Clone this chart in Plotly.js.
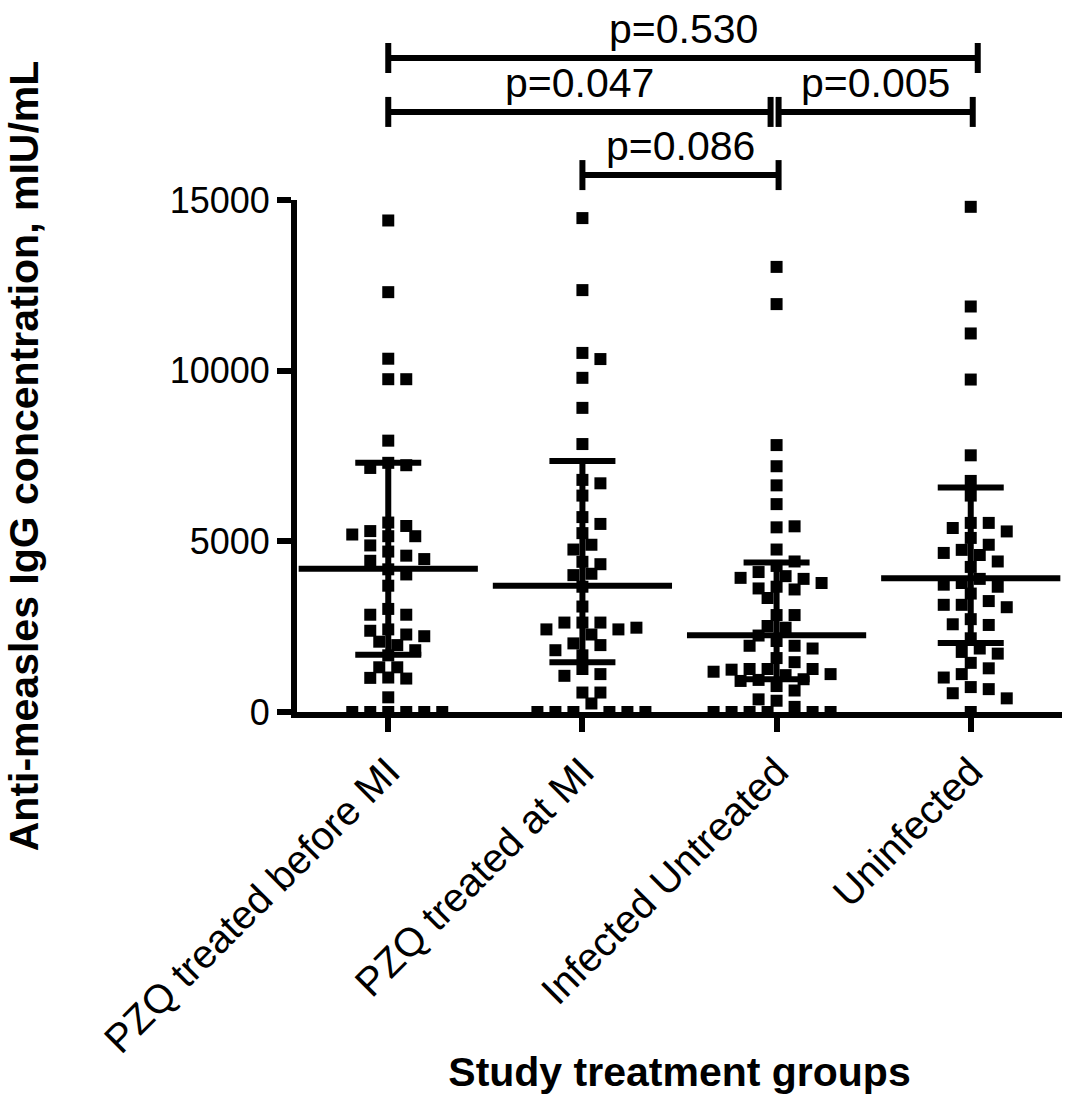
<!DOCTYPE html>
<html><head><meta charset="utf-8">
<script src="https://cdn.plot.ly/plotly-3.0.1.min.js"></script>
<style>html,body{margin:0;padding:0;background:#fff}</style>
</head><body><div id="chart" style="width:1073px;height:1095px"></div>
<script>
// ---------- data ----------
const categories = ["PZQ treated before MI", "PZQ treated at MI", "Infected Untreated", "Uninfected"];
const groupBeforeMI = [14400, 12300, 10350, 9750, 9750, 7950, 7300, 7230, 7150, 5550, 5450, 5300, 5150, 5150, 5200,
  4880, 4700, 4580, 4430, 4480, 4180, 4030, 3700, 3020, 2850, 2850, 2420, 2270, 2380, 2220, 2060, 1960, 1810, 1660,
  1310, 1310, 1010, 980, 1000, 430, 0, 0, 0, 0, 0, 0];
const groupAtMI = [14470, 12360, 10520, 10340, 9790, 8910, 7850, 6800, 6700, 6340, 5710, 5510, 5240, 4900, 4760, 4400,
  4330, 4050, 4010, 3670, 3090, 2620, 2620, 2620, 2420, 2420, 2470, 2270, 2010, 1960, 1810, 1660, 1260, 1110, 1060,
  570, 570, 250, 0, 0, 0, 0, 0, 0];
const groupInfectedUntreated = [13040, 11950, 7820, 7200, 6640, 6090, 5410, 5440, 4760, 4280, 4410, 4100, 3980, 3900,
  3930, 3670, 3590, 3620, 3780, 3340, 2840, 2840, 2470, 2520, 2240, 2080, 1940, 1940, 1860, 1580, 1460, 1260, 1260,
  1260, 1240, 1080, 1110, 1180, 940, 960, 910, 760, 630, 330, 370, 150, 0, 0, 0, 0, 0, 0];
const groupUninfected = [14800, 11880, 11090, 9740, 7520, 6770, 6340, 5540, 5540, 5390, 5290, 5100, 4900, 4750, 4660,
  4600, 4410, 4250, 3900, 3780, 3670, 3730, 3470, 3250, 3140, 3140, 3070, 2720, 2550, 2570, 2160, 1860, 1760, 1710,
  1440, 1280, 1110, 1010, 730, 670, 550, 400, 0];
const centerValues = [4200, 3700, 2250, 3920];
const lowerValues = [1680, 1460, 960, 2020];
const upperValues = [7300, 7350, 4380, 6580];
const yTickValues = [0, 5000, 10000, 15000];
const yTickLabels = ["0", "5000", "10000", "15000"];
const pLabels = ["p=0.530", "p=0.047", "p=0.005", "p=0.086"];
const pFrom = [0, 0, 2, 1];
const pTo = [3, 2, 3, 2];

// ---------- layout config ----------
const W = 1073, H = 1095;
const M = {l: 297, r: 11, t: 200, b: 383};
const xRange = [-0.47, 3.47];
const yRange = [0, 15000];
const plotW = W - M.l - M.r, plotH = H - M.t - M.b;
const pxPerX = plotW / (xRange[1] - xRange[0]);
const pxPerY = plotH / (yRange[1] - yRange[0]);
const FONT = "Liberation Sans, Arial, sans-serif";
const MARKER = 12, STEP = 9, MIN_DIST = 13, LW = 6;

// beeswarm placement computed from values through the axis scale
function swarm(values, idx) {
  const placed = [];
  const xs = [];
  values.forEach(v => {
    const py = v * pxPerY;
    let k = 0, dx = 0;
    for (let n = 0; n < 200; n++) {
      k = n === 0 ? 0 : (n % 2 ? (n + 1) / 2 : -n / 2);
      dx = k * STEP;
      const hit = placed.some(p => (p.dx - dx) ** 2 + (p.py - py) ** 2 < MIN_DIST * MIN_DIST);
      if (!hit) break;
    }
    placed.push({dx, py});
    xs.push(idx + dx / pxPerX);
  });
  return xs;
}

const groups = [groupBeforeMI, groupAtMI, groupInfectedUntreated, groupUninfected];
const traces = groups.map((vals, i) => ({
  type: 'scatter', mode: 'markers', name: categories[i],
  x: swarm(vals, i), y: vals, cliponaxis: false, hoverinfo: 'y',
  marker: {symbol: 'square', size: MARKER, color: '#000', line: {width: 0}}
}));
const idxs = categories.map((c, i) => i);
traces.push({
  type: 'scatter', mode: 'markers', x: idxs, y: centerValues, cliponaxis: false,
  marker: {symbol: 'line-ew', size: 128, color: '#000', line: {width: LW, color: '#000'}},
  error_y: {type: 'data', symmetric: false,
    array: upperValues.map((u, i) => u - centerValues[i]),
    arrayminus: lowerValues.map((l, i) => centerValues[i] - l),
    thickness: LW, width: 33, color: '#000'}
});

// comparison brackets (levels in data units above the axis top)
const levels = [19160, 17580, 17580, 15730];
const endNudgePx = [[0, 7], [0, -6], [2, 2], [0, 2]];
const tickHalf = 15 / pxPerY;
const toPaperX = (v) => (v - xRange[0]) / (xRange[1] - xRange[0]);
const toPaperY = (v) => (v - yRange[0]) / (yRange[1] - yRange[0]);
const shapes = [], annotations = [];
pLabels.forEach((lab, i) => {
  const x0 = toPaperX(pFrom[i] + endNudgePx[i][0] / pxPerX);
  const x1 = toPaperX(pTo[i] + endNudgePx[i][1] / pxPerX);
  const y = toPaperY(levels[i]);
  const ln = {color: '#000', width: LW};
  shapes.push({type: 'line', xref: 'paper', yref: 'paper', x0, x1, y0: y, y1: y, line: ln});
  [x0, x1].forEach(xx => shapes.push({type: 'line', xref: 'paper', yref: 'paper', x0: xx, x1: xx,
    y0: toPaperY(levels[i] - tickHalf), y1: toPaperY(levels[i] + tickHalf), line: ln}));
  annotations.push({xref: 'paper', yref: 'paper', x: (x0 + x1) / 2, y, xanchor: 'center', yanchor: 'bottom',
    yshift: 4, showarrow: false, text: lab, font: {family: FONT, size: 41, color: '#000'}});
});

const layout = {
  width: W, height: H, margin: M, paper_bgcolor: '#fff', plot_bgcolor: '#fff', showlegend: false,
  xaxis: {range: xRange, tickvals: idxs, ticktext: categories, tickangle: -45, automargin: false,
    showline: true, linewidth: LW, linecolor: '#000', ticks: 'outside', ticklen: 14, tickwidth: LW, tickcolor: '#000',
    showgrid: false, zeroline: false, tickfont: {family: FONT, size: 40, color: '#000'},
    title: {text: 'Study treatment groups', standoff: 14, font: {family: FONT, size: 41, color: '#000', weight: 700}}},
  yaxis: {range: yRange, tickvals: yTickValues, ticktext: yTickLabels, automargin: false,
    showline: true, linewidth: LW, linecolor: '#000', ticks: 'outside', ticklen: 14, tickwidth: LW, tickcolor: '#000',
    showgrid: false, zeroline: false, tickfont: {family: FONT, size: 36, color: '#000'},
    title: {text: 'Anti-measles IgG concentration, mIU/mL', standoff: 120, font: {family: FONT, size: 41, color: '#000', weight: 700}}},
  shapes, annotations
};
Plotly.newPlot('chart', traces, layout, {displayModeBar: false, staticPlot: true});
</script></body></html>
